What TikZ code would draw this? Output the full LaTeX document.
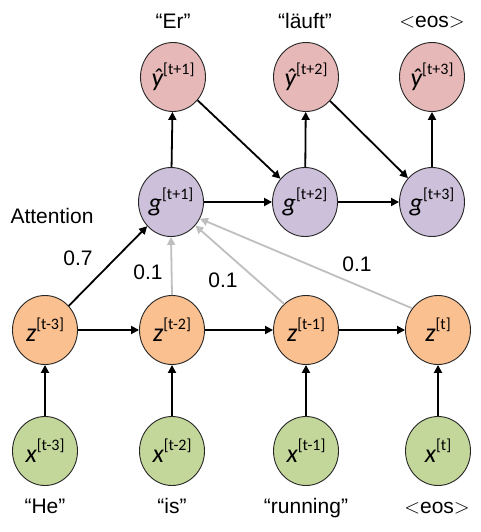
\documentclass[tikz,border=0pt]{standalone}
\usepackage{fontspec}
\setmainfont{Liberation Sans}
\newfontfamily\calib{Carlito}
\usetikzlibrary{shapes.geometric,arrows.meta}

\definecolor{predfill}{HTML}{E6B8B7}
\definecolor{decfill}{HTML}{CCC0DA}
\definecolor{encfill}{HTML}{FAC090}
\definecolor{infill}{HTML}{C4D79B}
\definecolor{attgray}{HTML}{BFBFBF}

% italic variable with an upright bracketed time index
\newcommand{\seqvar}[2]{{\calib\fontsize{26}{26}\selectfont\itshape #1}\raisebox{12pt}{\calib\fontsize{16}{16}\selectfont[#2]}}
% end-of-sentence token with thin angle brackets
\newcommand{\eostok}{\ensuremath{<}eos\ensuremath{>}}

\begin{document}
\begin{tikzpicture}[x=1pt, y=-1pt,
  font=\fontsize{21}{21}\selectfont,
  unit/.style={ellipse, draw=black!85, line width=0.9pt,
    minimum width=65pt, minimum height=69pt, inner sep=0pt},
  pred/.style={unit, fill=predfill},
  dec/.style={unit, fill=decfill},
  enc/.style={unit, fill=encfill},
  inp/.style={unit, fill=infill},
  link/.style={line width=1.8pt, draw=black, -{Triangle[length=8pt,width=8pt]}},
  weak/.style={link, draw=attgray},
  word/.style={anchor=base, inner sep=0pt}]

\fill[white] (0,0) rectangle (480,532);
\useasboundingbox (0,0) rectangle (480,532);

% input words
\node[inp] (x1) at (45,451) {\seqvar{x}{t-3}};
\node[inp] (x2) at (172,451) {\seqvar{x}{t-2}};
\node[inp] (x3) at (306,451) {\seqvar{x}{t-1}};
\node[inp] (x4) at (438,451) {\seqvar{x}{t}};

% encoder states
\node[enc] (z1) at (45,330) {\seqvar{z}{t-3}};
\node[enc] (z2) at (172,330) {\seqvar{z}{t-2}};
\node[enc] (z3) at (306,330) {\seqvar{z}{t-1}};
\node[enc] (z4) at (438,330) {\seqvar{z}{t}};

% decoder states
\node[dec] (g1) at (171,202) {\seqvar{g}{t+1}};
\node[dec] (g2) at (305,202) {\seqvar{g}{t+2}};
\node[dec] (g3) at (432,202) {\seqvar{g}{t+3}};

% predictions
\node[pred] (y1) at (173,77) {\seqvar{\^y}{t+1}};
\node[pred] (y2) at (306,77) {\seqvar{\^y}{t+2}};
\node[pred] (y3) at (432,77) {\seqvar{\^y}{t+3}};

% output words
\node[word] (o1) at (173,29) {“Er”};
\node[word] (o2) at (305,29) {“läuft”};
\node[word] (o3) at (432,28) {\eostok};

% input words below
\node[word] (w1) at (45,513) {“He”};
\node[word] (w2) at (172,513) {“is”};
\node[word] (w3) at (306,513) {“running”};
\node[word] (w4) at (437,513) {\eostok};

% attention label and weights
\node[word] (att) at (52,223) {Attention};
\node[word] (a1) at (78,265) {0.7};
\node[word] (a2) at (148,279) {0.1};
\node[word] (a3) at (223,287) {0.1};
\node[word] (a4) at (357,271) {0.1};

% inputs into encoder
\draw[link] (x1) -- (z1);
\draw[link] (x2) -- (z2);
\draw[link] (x3) -- (z3);
\draw[link] (x4) -- (z4);

% encoder recurrence
\draw[link] (z1) -- (z2);
\draw[link] (z2) -- (z3);
\draw[link] (z3) -- (z4);

% attention connections
\draw[weak] (z2.north) -- (g1.south);
\draw[weak] (z3.130) -- (g1.-44);
\draw[weak] (z4.140) -- (g1.-30);
\draw[link] (z1) -- (g1);

% decoder recurrence and outputs
\draw[link] (g1) -- (g2);
\draw[link] (g2) -- (g3);
\draw[link] (g1) -- (y1);
\draw[link] (g2) -- (y2);
\draw[link] (g3) -- (y3);
\draw[link] (y1) -- (g2);
\draw[link] (y2) -- (g3);
\end{tikzpicture}
\end{document}
